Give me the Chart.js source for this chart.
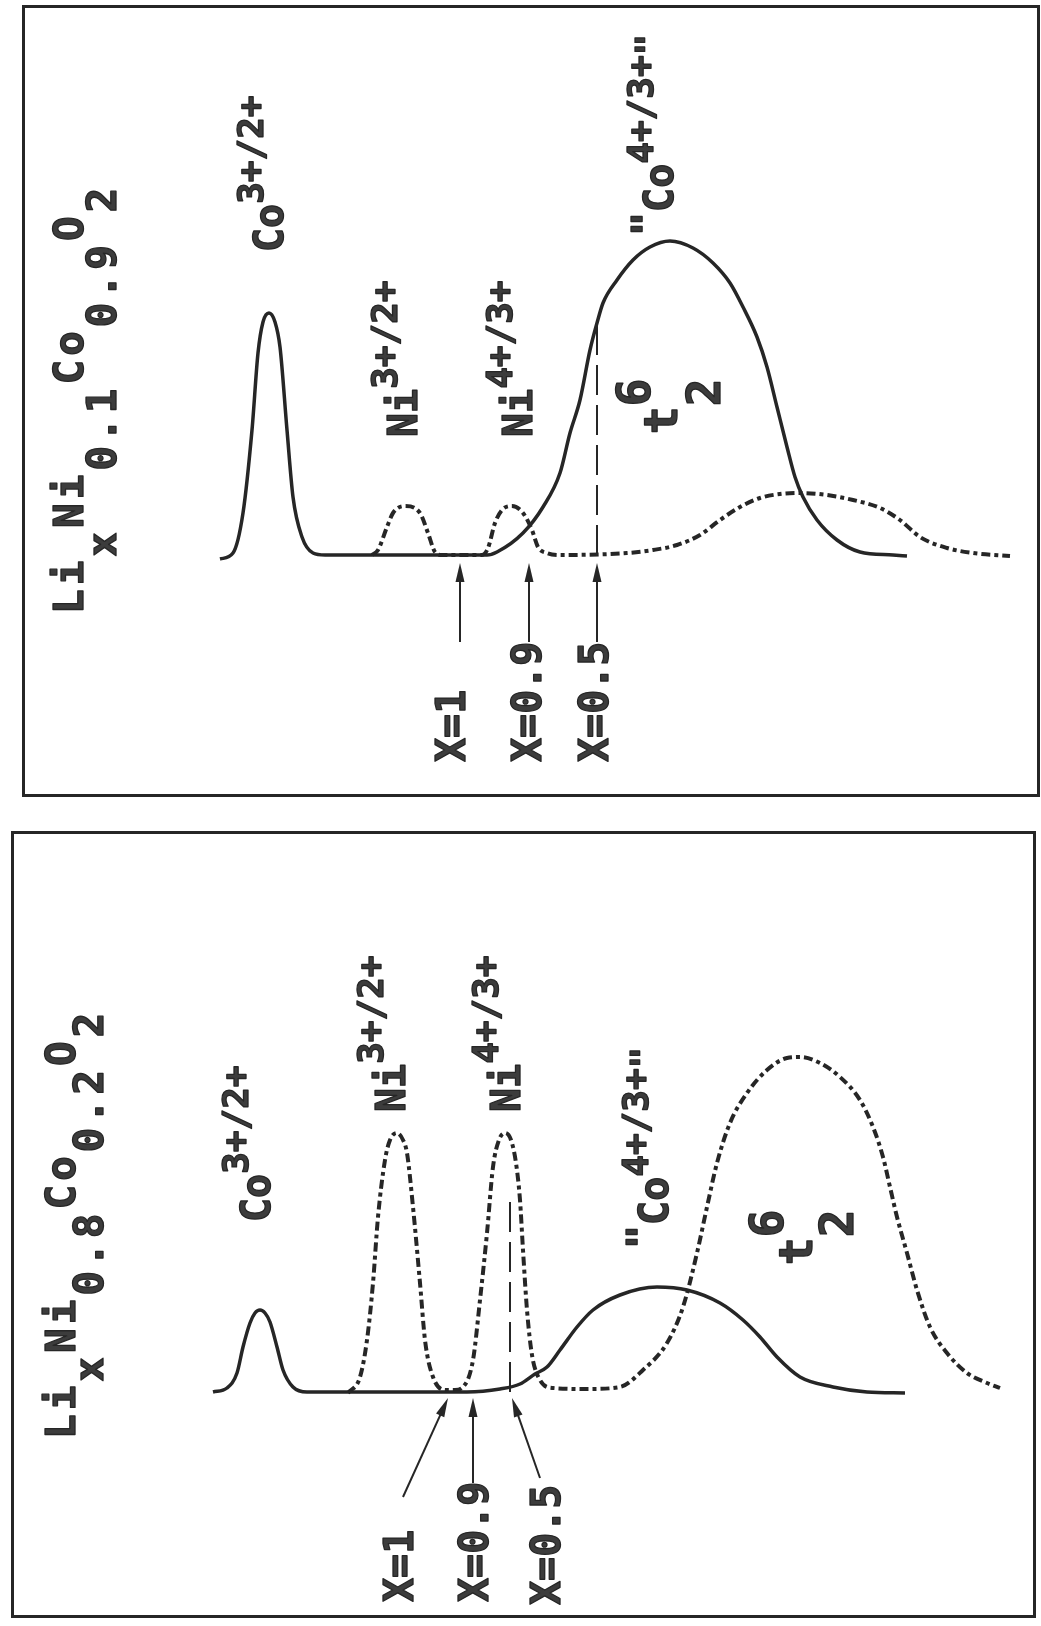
<!DOCTYPE html>
<html>
<head>
<meta charset="utf-8">
<script src="https://cdn.jsdelivr.net/npm/chart.js@4.4.1/dist/chart.umd.min.js"></script>
<style>
  html, body { margin: 0; padding: 0; background: #fff; }
  body { position: relative; width: 1041px; height: 1626px; overflow: hidden; }
  canvas { position: absolute; left: 0; }
  .frame { position: absolute; box-sizing: border-box; border: 3px solid #262626; pointer-events: none; }
</style>
</head>
<body>
<canvas id="topPanel" width="1041" height="813" style="top:0"></canvas>
<canvas id="bottomPanel" width="1041" height="813" style="top:813px"></canvas>
<div class="frame" style="left:22px; top:5px; width:1018px; height:792px"></div>
<div class="frame" style="left:11px; top:831px; width:1025px; height:787px"></div>
<script>
// energy (arb. units) along the horizontal, density of states (arb. units) upward

// Li_x Ni0.1 Co0.9 O2
const topCoEnergy = [2.0, 3.3, 4.3, 5.2, 5.8, 6.3, 6.9, 7.5, 8.0, 8.7, 9.3, 10.2, 11.3, 12.5,
  28.7, 29.7, 32.3, 34.3, 36.0, 37.0, 38.0, 39.0, 39.7, 40.3, 41.7, 43.3, 45.0, 47.0, 49.3,
  51.3, 53.0, 54.3, 55.7, 56.7, 57.7, 58.7, 59.5, 60.3, 61.7, 63.7, 66.0, 69.3, 70.7];
const topCoDensity = [-0.8, 0.4, 8.4, 25, 40.4, 46.6, 48.4, 46.6, 41.6, 25, 11.6, 3.6, 0.4, 0,
  0, 0.6, 4.4, 9.6, 16.4, 24.4, 31.0, 41.0, 46.4, 50.4, 55.0, 59.0, 61.6, 62.8, 61.4,
  58.4, 54.4, 49.6, 43.6, 37.6, 29.6, 21.6, 15.6, 11.6, 7.0, 3.0, 0.6, 0, -0.2];
const topNiEnergy = [17.2, 17.8, 18.7, 19.3, 20.5, 22.0, 22.8, 23.5, 24.2,
  28.2, 28.8, 29.5, 30.2, 31.2, 32.3, 33.2, 33.8, 34.7, 36.0,
  42.7, 45.3, 47.7, 50.0, 52.0, 54.0, 56.0, 58.0, 60.0, 62.7, 65.3, 68.0, 70.0, 72.0, 74.7, 77.3, 81.0];
const topNiDensity = [0, 1.0, 5.6, 8.4, 9.8, 8.4, 4.4, 0.6, 0,
  0, 1.4, 6.4, 9.0, 9.8, 8.4, 5.0, 1.6, 0.4, 0,
  0.4, 1.0, 2.0, 4.0, 7.0, 9.6, 11.4, 12.2, 12.4, 12.0, 11.0, 9.4, 7.0, 3.6, 1.4, 0.4, -0.2];
const topFermiX = [1, 0.9, 0.5];
const topFermiEnergy = [26.0, 32.9, 39.7];
const topHalfLevel = 46.4;   // height of the dashed x=0.5 marker

// Li_x Ni0.8 Co0.2 O2
const botCoEnergy = [1.3, 2.7, 3.7, 4.3, 5.0, 5.5, 6.0, 6.5, 7.0, 7.7, 8.3, 9.3, 10.7,
  26.7, 30.0, 32.0, 33.5, 34.7, 36.0, 37.7, 39.3, 42.0, 45.7, 48.7, 52.0, 54.3, 56.0,
  57.7, 60.0, 63.3, 66.7, 70.5];
const botCoDensity = [0, 0.8, 3.8, 9.0, 13.8, 15.8, 16.4, 15.8, 14.0, 9.0, 4.4, 1.0, 0,
  0, 0.6, 1.6, 3.6, 5.0, 8.4, 13.0, 16.4, 19.4, 21.0, 20.4, 17.8, 14.4, 11.0,
  7.0, 3.0, 1.0, 0, -0.2];
const botNiEnergy = [14.8, 16.0, 16.7, 17.3, 17.8, 18.5, 19.0, 19.7, 20.3, 20.7,
  21.3, 22.0, 22.5, 23.3, 24.7, 25.5, 26.3, 27.3, 28.0, 28.7,
  29.3, 29.9, 30.5, 31.1, 31.6, 32.0, 32.3, 32.7, 33.2, 34.0,
  35.3, 38.7, 42.0, 44.3, 46.7, 48.3, 49.7, 50.7, 51.7, 53.0,
  54.7, 56.7, 58.7, 60.0, 62.0, 64.0, 66.0, 67.3, 68.3, 69.0,
  69.7, 70.7, 71.7, 73.0, 74.7, 76.7, 78.7, 80.0];
const botNiDensity = [-0.2, 3.0, 10.4, 21.8, 35.0, 46.4, 50.4, 51.8, 50.4, 47.8,
  37.0, 21.8, 10.4, 3.0, 0.4, 0.4, 1.0, 6.4, 18.4, 31.8,
  45.0, 50.4, 51.8, 50.4, 45.8, 38.4, 28.4, 16.4, 7.4, 2.4,
  0.8, 0.6, 1.0, 4.4, 9.8, 17.0, 27.8, 37.0, 45.8, 53.8,
  59.8, 64.4, 66.8, 67.0, 65.8, 63.0, 58.4, 53.0, 47.0, 41.0,
  35.0, 27.8, 20.4, 13.0, 7.8, 3.8, 1.8, 0.8];
const botFermiX = [1, 0.9, 0.5];
const botFermiEnergy = [24.8, 27.3, 31.2];
const botFermiTail = [20.3, 27.3, 34.0];
const botHalfEnergy = 31.0;
const botHalfLevel = 39.4;

const INK = '#262626';
const TEXT = '#3c3c3c';
const FONT = '"DejaVu Sans Mono", "Liberation Mono", monospace';

function pts(xs, ys) {
  return xs.map((v, i) => ({ x: v, y: ys[i] }));
}

function notes(labels, arrows) {
  return {
    id: 'notes',
    afterDatasetsDraw(chart) {
      const { ctx } = chart;
      const sx = chart.scales.x, sy = chart.scales.y;
      ctx.save();
      ctx.fillStyle = INK;
      ctx.strokeStyle = INK;
      arrows.forEach(a => {
        const x0 = sx.getPixelForValue(a.from[0]), y0 = sy.getPixelForValue(a.from[1]);
        const x1 = sx.getPixelForValue(a.to[0]), y1 = sy.getPixelForValue(a.to[1]);
        const ang = Math.atan2(y1 - y0, x1 - x0);
        const c = Math.cos(ang), s = Math.sin(ang);
        const hl = 19, hw = 4.5;
        ctx.lineWidth = 2;
        ctx.beginPath();
        ctx.moveTo(x0, y0);
        ctx.lineTo(x1 - c * hl * 0.8, y1 - s * hl * 0.8);
        ctx.stroke();
        ctx.beginPath();
        ctx.moveTo(x1, y1);
        ctx.lineTo(x1 - c * hl - s * hw, y1 - s * hl + c * hw);
        ctx.lineTo(x1 - c * hl + s * hw, y1 - s * hl - c * hw);
        ctx.closePath();
        ctx.fill();
      });
      ctx.fillStyle = TEXT;
      ctx.lineWidth = 1.3;
      ctx.lineJoin = 'round';
      labels.forEach(l => {
        ctx.save();
        ctx.translate(sx.getPixelForValue(l.at[0]), sy.getPixelForValue(l.at[1]));
        ctx.rotate(-Math.PI / 2);
        ctx.textAlign = 'left';
        ctx.textBaseline = 'alphabetic';
        ctx.letterSpacing = (l.spacing || 0) + 'px';
        let pos = 0;
        l.parts.forEach(([text, shift, size, stay]) => {
          ctx.font = `bold ${size}px ${FONT}`;
          ctx.fillText(text, pos, shift);
          ctx.strokeText(text, pos, shift);
          if (!stay) pos += ctx.measureText(text).width;
        });
        ctx.restore();
      });
      ctx.restore();
    }
  };
}

function panel(id, yMin, yMax, datasets, labels, arrows) {
  return new Chart(document.getElementById(id), {
    type: 'line',
    data: { datasets },
    options: {
      responsive: false,
      animation: false,
      devicePixelRatio: 1,
      events: [],
      layout: { padding: 0 },
      elements: { point: { radius: 0 } },
      plugins: { legend: { display: false }, tooltip: { enabled: false } },
      scales: {
        x: { type: 'linear', min: -20, max: 84.1, display: false },
        y: { type: 'linear', min: yMin, max: yMax, display: false }
      }
    },
    plugins: [notes(labels, arrows)]
  });
}

function curves(coE, coD, niE, niD, halfE, halfD) {
  return [
    { data: pts(coE, coD), borderColor: INK, borderWidth: 3.5, cubicInterpolationMode: 'monotone', fill: false },
    { data: pts(niE, niD), borderColor: INK, borderWidth: 4, borderDash: [9, 4, 4, 4],
      cubicInterpolationMode: 'monotone', fill: false },
    { data: [{ x: halfE, y: 0 }, { x: halfE, y: halfD }], borderColor: INK, borderWidth: 2,
      borderDash: [30, 10], tension: 0, fill: false }
  ];
}

const sup = '3+/2+';
panel('topPanel', -51.6, 111,
  curves(topCoEnergy, topCoDensity, topNiEnergy, topNiDensity, topFermiEnergy[2], topHalfLevel),
  [
    { at: [-11.7, -11.8], spacing: 4, parts: [['Li', 0, 41], ['x', 33, 41], ['Ni', 0, 41], ['0.1', 33, 41],
      ['Co', 0, 41], ['0.9', 33, 41], ['O', 0, 41], ['2', 33, 41]] },
    { at: [8.3, 60.6], parts: [['Co', 0, 40], [sup, -20, 36]] },
    { at: [21.7, 23.6], parts: [['Ni', 0, 40], [sup, -20, 36]] },
    { at: [33.2, 23.6], parts: [['Ni', 0, 40], ['4+/3+', -20, 36]] },
    { at: [47.3, 63.8], parts: [['"', -12, 40], ['Co', 0, 40], ['4+/3+', -20, 36], ['"', -12, 36]] },
    { at: [47.7, 24.2], parts: [['t', 0, 46], ['6', -27, 46, true], ['2', 43, 46]] },
    { at: [26.5, -41.4], parts: [['X=' + topFermiX[0], 0, 40]] },
    { at: [34.1, -41.4], parts: [['X=' + topFermiX[1], 0, 40]] },
    { at: [40.8, -41.4], parts: [['X=' + topFermiX[2], 0, 40]] }
  ],
  topFermiEnergy.map(e => ({ from: [e, -17.4], to: [e, -1.6] }))
);

panel('bottomPanel', -46.8, 115.8,
  curves(botCoEnergy, botCoDensity, botNiEnergy, botNiDensity, botHalfEnergy, botHalfLevel),
  [
    { at: [-12.5, -9.4], spacing: 4, parts: [['Li', 0, 41], ['x', 28, 41], ['Ni', 0, 41], ['0.8', 28, 41],
      ['Co', 0, 41], ['0.2', 28, 41], ['O', 0, 41], ['2', 28, 41]] },
    { at: [7.0, 34.0], parts: [['Co', 0, 40], [sup, -22, 36]] },
    { at: [20.5, 56.0], parts: [['Ni', 0, 40], [sup, -22, 36]] },
    { at: [32.0, 56.0], parts: [['Ni', 0, 40], ['4+/3+', -22, 36]] },
    { at: [46.8, 28.6], parts: [['"', -12, 40], ['Co', 0, 40], ['4+/3+', -20, 36], ['"', -12, 36]] },
    { at: [61.2, 25.4], parts: [['t', 0, 46], ['6', -29, 46, true], ['2', 41, 46]] },
    { at: [21.3, -42.0], parts: [['X=' + botFermiX[0], 0, 40]] },
    { at: [28.8, -42.0], parts: [['X=' + botFermiX[1], 0, 40]] },
    { at: [36.0, -42.6], parts: [['X=' + botFermiX[2], 0, 40]] }
  ],
  botFermiEnergy.map((e, i) => ({ from: [botFermiTail[i], [-21, -18.2, -17.2][i]], to: [e, -1.2] }))
);
</script>
</body>
</html>
